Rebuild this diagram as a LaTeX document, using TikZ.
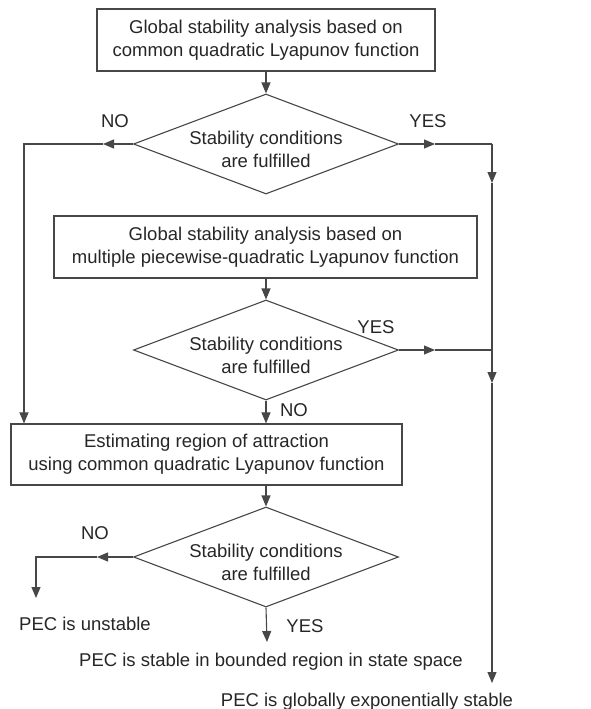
\documentclass[tikz,border=0pt]{standalone}
\usepackage{fontspec}
\setmainfont{Liberation Sans}
\usetikzlibrary{shapes.geometric,arrows.meta}
\begin{document}
\begin{tikzpicture}[x=1pt,y=-1pt,
  every node/.style={text=black!85, font=\fontsize{18.5}{23}\selectfont},
  procbox/.style={draw=black!72, line width=1.2pt, align=center, inner sep=0pt},
  dia/.style={draw=black!72, line width=1.1pt, shape=diamond, minimum width=265pt, minimum height=100pt, inner sep=0pt},
  txt/.style={align=center, inner sep=0pt},
  lbl/.style={inner sep=0pt},
  ln/.style={draw=black!72, line width=1.1pt},
  arr/.style={ln, -{Triangle[length=11pt,width=9pt]}}
]
\useasboundingbox (0,0) rectangle (590,709);

% boxes
\node[procbox, minimum width=338pt, minimum height=62pt] (b1) at (266,40)
  {Global stability analysis based on\\common quadratic Lyapunov function};
\node[procbox, minimum width=423pt, minimum height=62pt] (b2) at (265.5,247)
  {Global stability analysis based on\\multiple piecewise-quadratic Lyapunov function};
\node[procbox, minimum width=391pt, minimum height=61pt] (b3) at (206.5,454.5)
  {Estimating region of attraction\\using common quadratic Lyapunov function};

% diamonds
\node[dia] (d1) at (266,144) {};
\node[txt] (t1) at (266,149) {Stability conditions\\are fulfilled};
\node[dia] (d2) at (266,350) {};
\node[txt] (t2) at (266,355) {Stability conditions\\are fulfilled};
\node[dia] (d3) at (266,557) {};
\node[txt] (t3) at (266,562) {Stability conditions\\are fulfilled};

% outcomes
\node[lbl, anchor=base] (o1) at (85,630) {PEC is unstable};
\node[lbl, anchor=base] (o2) at (271,666) {PEC is stable in bounded region in state space};
\node[lbl, anchor=base] (o3) at (367,706) {PEC is globally exponentially stable};

% labels
\node[lbl] (l1) at (115,121) {NO};
\node[lbl] (l2) at (428,121) {YES};
\node[lbl] (l3) at (376,327) {YES};
\node[lbl] (l4) at (294,410) {NO};
\node[lbl] (l5) at (95,533) {NO};
\node[lbl] (l6) at (305,626) {YES};

% coordinates
\coordinate (m1) at (103,144);
\coordinate (c1) at (24,144);
\coordinate (m2) at (435,144);
\coordinate (c2) at (492,144);
\coordinate (m3) at (492,183);
\coordinate (c3) at (492,350);
\coordinate (m4) at (435,350);
\coordinate (m5) at (492,383);
\coordinate (e1) at (492,683);
\coordinate (m6) at (97,557);
\coordinate (c6) at (36,557);
\coordinate (e6) at (36,598);
\coordinate (e7) at (267,642);

% connectors
\draw[arr] (b1.south -| d1.north) -- (d1.north);
\draw[arr] (d1.west) -- (m1);
\draw[arr] (m1) -- (c1) -- (c1 |- b3.north);
\draw[arr] (d1.east) -- (m2);
\draw[ln] (m2) -- (c2);
\draw[arr] (c2) -- (m3);
\draw[ln] (m3) -- (c3);
\draw[arr] (b2.south -| d2.north) -- (d2.north);
\draw[arr] (d2.east) -- (m4);
\draw[ln] (m4) -- (c3);
\draw[arr] (c3) -- (m5);
\draw[arr] (m5) -- (e1);
\draw[arr] (d2.south) -- (d2.south |- b3.north);
\draw[arr] (b3.south -| d3.north) -- (d3.north);
\draw[arr] (d3.west) -- (m6);
\draw[arr] (m6) -- (c6) -- (e6);
\draw[arr] (d3.south) -- (e7);
\end{tikzpicture}
\end{document}
